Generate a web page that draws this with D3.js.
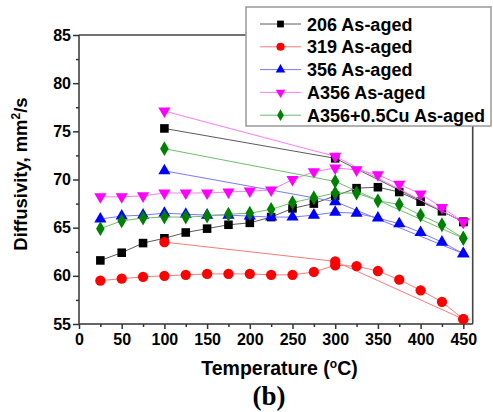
<!DOCTYPE html>
<html>
<head>
<meta charset="utf-8">
<script src="https://cdn.jsdelivr.net/npm/d3@7"></script>
<style>
  body { margin: 0; background: #fff; }
  svg { display: block; font-family: Arial, "Liberation Sans", sans-serif; }
</style>
</head>
<body>
<div id="chart"></div>
<script>
// temperatures for the heating runs
var temps = [25, 50, 75, 100, 125, 150, 175, 200, 225, 250, 275, 300, 325, 350, 375, 400, 425, 450];
// temperatures for the three-point runs
var tempsShort = [100, 300, 450];

var names = ['206 As-aged', '319 As-aged', '356 As-aged', 'A356 As-aged', 'A356+0.5Cu As-aged'];

// diffusivity, mm2/s
var alloy206 = [61.6, 62.4, 63.4, 63.9, 64.5, 64.9, 65.3, 65.5, 66.1, 67.0, 67.5, 68.3, 69.1, 69.2, 68.7, 67.7, 66.7, 65.6];
var alloy319 = [59.5, 59.7, 59.9, 60.0, 60.1, 60.2, 60.2, 60.2, 60.1, 60.1, 60.4, 61.1, 61.0, 60.5, 59.6, 58.5, 57.3, 55.5];
var alloy356 = [65.9, 66.2, 66.3, 66.5, 66.4, 66.3, 66.3, 66.2, 66.1, 66.1, 66.3, 66.6, 66.5, 66.0, 65.4, 64.5, 63.5, 62.3];
var alloyA356 = [68.2, 68.2, 68.3, 68.6, 68.6, 68.6, 68.7, 68.8, 68.9, 70.0, 70.8, 71.2, 71.0, 70.5, 69.5, 68.5, 67.1, 65.6];
var alloyA356Cu = [64.9, 65.7, 66.0, 66.1, 66.1, 66.2, 66.4, 66.5, 66.9, 67.6, 68.1, 68.6, 68.6, 67.8, 67.4, 66.3, 65.3, 63.9];

var short206 = [75.3, 72.2, 65.6];
var short319 = [63.5, 61.5, 55.5];
var short356 = [70.9, 67.7, 62.3];
var shortA356 = [77.1, 72.4, 65.6];
var shortA356Cu = [73.2, 69.8, 63.9];

var xTicks = [0, 50, 100, 150, 200, 250, 300, 350, 400, 450];
var yTicks = [55, 60, 65, 70, 75, 80, 85];

var svgWidth = 493;
var svgHeight = 412;

var plot = { left: 79, right: 472.7, top: 35, bottom: 324 };

var svg = d3.select('#chart')
  .append('svg')
  .attr('width', svgWidth)
  .attr('height', svgHeight);

var x = d3.scaleLinear().domain([0, 461]).range([plot.left, plot.right]);
var y = d3.scaleLinear().domain([55, 85]).range([plot.bottom, plot.top]);

// marker + colour setup for each alloy
var series = [
  { name: names[0], full: alloy206, short: short206, color: '#000000', line: '#5a5a5a', sym: d3.symbolSquare, size: 46, rot: 0 },
  { name: names[1], full: alloy319, short: short319, color: '#ff0000', line: '#ff7a7a', sym: d3.symbolCircle, size: 52, rot: 0 },
  { name: names[2], full: alloy356, short: short356, color: '#0000ff', line: '#7a7aff', sym: d3.symbolTriangle, size: 40, rot: 0 },
  { name: names[3], full: alloyA356, short: shortA356, color: '#ff00ff', line: '#ff7aff', sym: d3.symbolTriangle, size: 40, rot: 180 },
  { name: names[4], full: alloyA356Cu, short: shortA356Cu, color: '#008000', line: '#6cbf6c', sym: d3.symbolDiamond, size: 40, rot: 0 }
];

// frame: top and right sides
svg.append('path')
  .attr('d', `M${plot.left},${plot.top}H${plot.right}V${plot.bottom}`)
  .attr('fill', 'none')
  .attr('stroke', '#444')
  .attr('stroke-width', 1.6);

// bottom axis with minor ticks
var xAxis = svg.append('g')
  .attr('transform', `translate(0, ${plot.bottom})`);
xAxis.append('g')
  .call(d3.axisBottom(x).tickValues(d3.range(25, 451, 50)).tickSize(3).tickFormat(''))
  .call(g => g.select('.domain').remove());
xAxis.append('g')
  .call(d3.axisBottom(x).tickValues(xTicks).tickSize(5).tickPadding(5).tickFormat(d3.format('d')))
  .call(g => g.select('.domain').attr('d', `M${plot.left},0H${plot.right}`));

// left axis with minor ticks
var yAxis = svg.append('g')
  .attr('transform', `translate(${plot.left}, 0)`);
yAxis.append('g')
  .call(d3.axisLeft(y).tickValues(d3.range(57.5, 85, 5)).tickSize(3).tickFormat(''))
  .call(g => g.select('.domain').remove());
yAxis.append('g')
  .call(d3.axisLeft(y).tickValues(yTicks).tickSize(6).tickPadding(2).tickFormat(d3.format('d')))
  .call(g => g.select('.domain').attr('d', `M0,${plot.top}V${plot.bottom}`));

svg.selectAll('.tick line, .domain')
  .attr('stroke', '#333')
  .attr('stroke-width', 1.5);
svg.selectAll('.tick text')
  .attr('font-size', '16px')
  .attr('font-weight', 'bold')
  .attr('fill', '#000');

var line = d3.line()
  .x(d => x(d[0]))
  .y(d => y(d[1]));

function marker(g, s) {
  return g.append('path')
    .attr('d', d3.symbol().type(s.sym).size(s.size * 1.6))
    .attr('fill', s.color);
}

// curves and markers
series.forEach(function(s) {
  var full = temps.map((t, i) => [t, s.full[i]]);
  var short = tempsShort.map((t, i) => [t, s.short[i]]);
  var g = svg.append('g');

  [full, short].forEach(function(pts) {
    g.append('path')
      .datum(pts)
      .attr('d', line)
      .attr('fill', 'none')
      .attr('stroke', s.line)
      .attr('stroke-width', 1);
  });

  full.concat(short).forEach(function(p) {
    marker(g, s)
      .attr('transform', `translate(${x(p[0])}, ${y(p[1])}) rotate(${s.rot})`);
  });
});

// legend box
var legend = svg.append('g');
legend.append('rect')
  .attr('x', 246)
  .attr('y', 7)
  .attr('width', 245)
  .attr('height', 119)
  .attr('fill', '#fff')
  .attr('stroke', '#999')
  .attr('stroke-width', 1.5);

series.forEach(function(s, i) {
  var ly = 24 + i * 22.8;
  legend.append('line')
    .attr('x1', 260).attr('x2', 301)
    .attr('y1', ly).attr('y2', ly)
    .attr('stroke', s.line)
    .attr('stroke-width', 1);
  legend.append('path')
    .attr('d', d3.symbol().type(s.sym).size(s.size))
    .attr('fill', s.color)
    .attr('transform', `translate(280.5, ${ly}) rotate(${s.rot})`);
  legend.append('text')
    .attr('x', 307)
    .attr('y', ly + 6.5)
    .attr('font-size', '18px')
    .attr('font-weight', 'bold')
    .text(s.name);
});

// axis titles
var xTitle = svg.append('text')
  .attr('x', 279.5)
  .attr('y', 375)
  .attr('text-anchor', 'middle')
  .attr('font-size', '19.5px')
  .attr('font-weight', 'bold');
xTitle.append('tspan').text('Temperature (');
xTitle.append('tspan').attr('font-size', '12px').attr('dy', -7).text('o');
xTitle.append('tspan').attr('dy', 7).text('C)');

var yTitle = svg.append('text')
  .attr('transform', 'translate(27, 174) rotate(-90)')
  .attr('text-anchor', 'middle')
  .attr('font-size', '18.5px')
  .attr('font-weight', 'bold');
yTitle.append('tspan').text('Diffusivity, mm');
yTitle.append('tspan').attr('font-size', '12px').attr('dy', -7).text('2');
yTitle.append('tspan').attr('dy', 7).text('/s');

svg.append('text')
  .attr('x', 269)
  .attr('y', 405)
  .attr('text-anchor', 'middle')
  .attr('font-family', '"Liberation Serif", "Times New Roman", serif')
  .attr('font-size', '27px')
  .attr('font-weight', 'bold')
  .text('(b)');
</script>
</body>
</html>
